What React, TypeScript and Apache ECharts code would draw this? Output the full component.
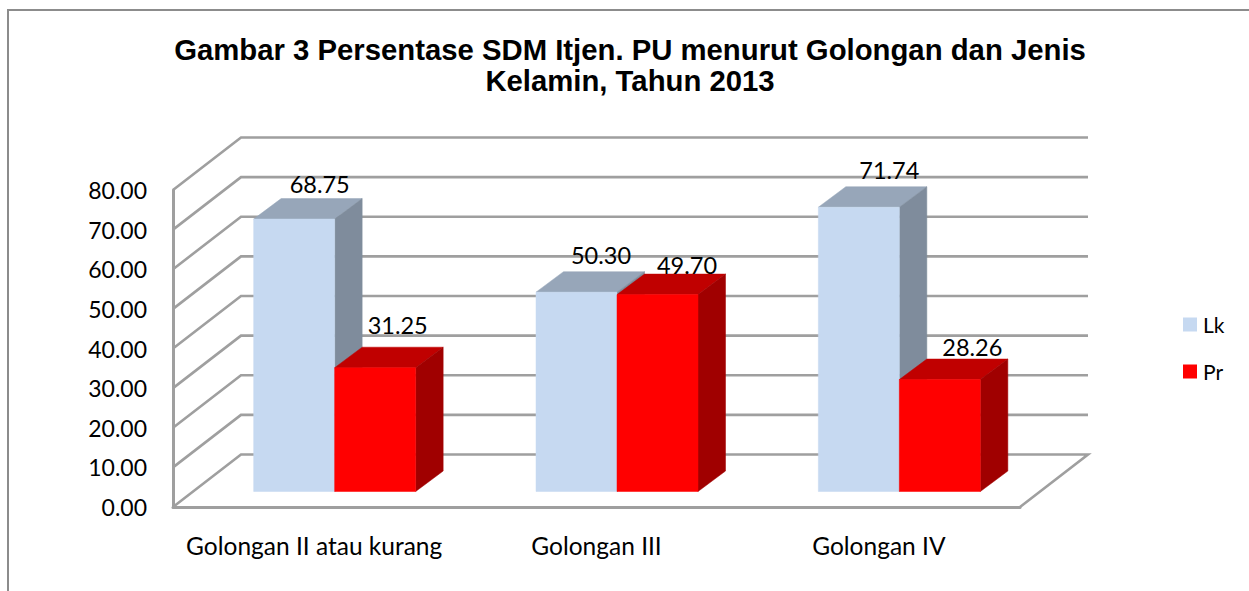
import React, { useEffect, useRef } from "react";
import * as echarts from "echarts";

const categories = ["Golongan II atau kurang", "Golongan III", "Golongan IV"];
const lkValues = [68.75, 50.3, 71.74];
const prValues = [31.25, 49.7, 28.26];
const yTicks = [0, 10, 20, 30, 40, 50, 60, 70, 80];

const titleText = "Gambar 3 Persentase SDM Itjen. PU menurut Golongan dan Jenis\nKelamin, Tahun 2013";

// 3D projection, in pixels
const WALL_DX = 68;
const WALL_DY = -52.5;
const BAR_DX = 20.5;
const BAR_DY = -15.5;
const BAR_W = 81;
const SIDE_DX = 27.5;
const SIDE_DY = -20.5;
const GRID_COLOR = "#9f9f9f";
const LABEL_FONT = '23.5px Lato';

// per-label nudges from the top-back centre of each bar
const lkNudge = [[-2, -15], [-3, -17], [3, -16.5]];
const prNudge = [[-5, -22], [2, -9.5], [5, -12]];

const bar3d = (side: number, front: string, top: string, right: string, nudge: number[][]) =>
  (_params: any, api: any) => {
    const idx = api.value(0);
    const val = api.value(1);
    const base = api.coord([idx, 0]);
    const h = api.size([0, val])[1];
    const xc = base[0] + BAR_DX;
    const x0 = side < 0 ? xc - BAR_W : xc;
    const x1 = x0 + BAR_W;
    const yb = base[1] + BAR_DY;
    const yt = yb - h;
    const poly = (points: number[][], fill: string) => ({
      type: "polygon",
      shape: { points },
      style: { fill, stroke: fill, lineWidth: 0.5 },
    });
    return {
      type: "group",
      children: [
        poly([[x0, yt], [x1, yt], [x1 + SIDE_DX, yt + SIDE_DY], [x0 + SIDE_DX, yt + SIDE_DY]], top),
        poly([[x1, yb], [x1, yt], [x1 + SIDE_DX, yt + SIDE_DY], [x1 + SIDE_DX, yb + SIDE_DY]], right),
        poly([[x0, yb], [x1, yb], [x1, yt], [x0, yt]], front),
        {
          type: "text",
          x: (x0 + x1) / 2 + SIDE_DX + nudge[idx][0],
          y: yt + SIDE_DY + nudge[idx][1],
          z2: 10,
          style: {
            text: val.toFixed(2),
            font: LABEL_FONT,
            fill: "#000",
            align: "center",
            verticalAlign: "middle",
          },
        },
      ],
    };
  };

const wallLines = (params: any, api: any) => {
  const val = api.value(0);
  const p = api.coord([0, val]);
  const cs = params.coordSys;
  const x = cs.x;
  const y = p[1];
  const right = cs.x + cs.width;
  const points = [[x, y], [x + WALL_DX, y + WALL_DY], [right + WALL_DX, y + WALL_DY]];
  if (val === 0) points.push([right, y]);
  return {
    type: "polyline",
    shape: { points },
    style: { fill: "none", stroke: GRID_COLOR, lineWidth: 2.6 },
  };
};

export default function App() {
  const ref = useRef<HTMLDivElement>(null);
  useEffect(() => {
    const chart = echarts.init(ref.current!, null, { renderer: "svg" });
    chart.setOption({
      animation: false,
      backgroundColor: "#fff",
      textStyle: { fontFamily: "Lato" },
      title: {
        text: titleText,
        left: 625,
        top: 29,
        textAlign: "center",
        textStyle: {
          fontFamily: "Liberation Sans",
          fontWeight: "bold",
          fontSize: 29.3,
          lineHeight: 31,
          color: "#000",
        },
      },
      legend: {
        left: 1178,
        top: 309,
        orient: "vertical",
        itemWidth: 14,
        itemHeight: 14,
        itemGap: 26,
        data: [
          { name: "Lk", icon: "rect" },
          { name: "Pr", icon: "rect" },
        ],
        textStyle: { fontFamily: "Lato", fontSize: 21, color: "#000", padding: [0, 0, 0, 1] },
      },
      graphic: [
        {
          type: "polyline",
          silent: true,
          shape: { points: [[8, 591], [8, 10], [1249, 10]] },
          style: { fill: "none", stroke: "#8c8c8c", lineWidth: 2 },
        },
      ],
      grid: { left: 173, top: 190, width: 847, height: 317 },
      xAxis: {
        type: "category",
        data: categories,
        axisTick: { show: false },
        axisLine: { show: true, lineStyle: { color: GRID_COLOR, width: 3 } },
        axisLabel: { interval: 0, margin: 26, fontFamily: "Lato", fontSize: 24.5, color: "#000" },
      },
      yAxis: {
        type: "value",
        min: 0,
        max: 80,
        interval: 10,
        splitLine: { show: false },
        axisTick: { show: false },
        axisLine: { show: true, onZero: false, lineStyle: { color: GRID_COLOR, width: 3 } },
        axisLabel: {
          margin: 26,
          fontFamily: "Lato",
          fontSize: 23,
          color: "#000",
          formatter: (v: number) => v.toFixed(2),
        },
      },
      series: [
        {
          type: "custom",
          name: "walls",
          silent: true,
          clip: false,
          renderItem: wallLines,
          encode: { y: 0 },
          data: yTicks.map((t) => [t]),
          z: 1,
        },
        {
          type: "custom",
          name: "Lk",
          clip: false,
          itemStyle: { color: "#c6d9f1" },
          renderItem: bar3d(-1, "#c6d9f1", "#97a6b9", "#7f8c9c", lkNudge),
          encode: { x: 0, y: 1 },
          data: lkValues.map((v, i) => [i, v]),
          z: 2,
        },
        {
          type: "custom",
          name: "Pr",
          clip: false,
          itemStyle: { color: "#ff0000" },
          renderItem: bar3d(1, "#ff0000", "#c00000", "#a00000", prNudge),
          encode: { x: 0, y: 1 },
          data: prValues.map((v, i) => [i, v]),
          z: 3,
        },
      ],
    });
    return () => chart.dispose();
  }, []);
  return (
    <div
      ref={ref}
      style={{ position: "absolute", left: 0, top: 0, width: 1249, height: 591 }}
    />
  );
}
